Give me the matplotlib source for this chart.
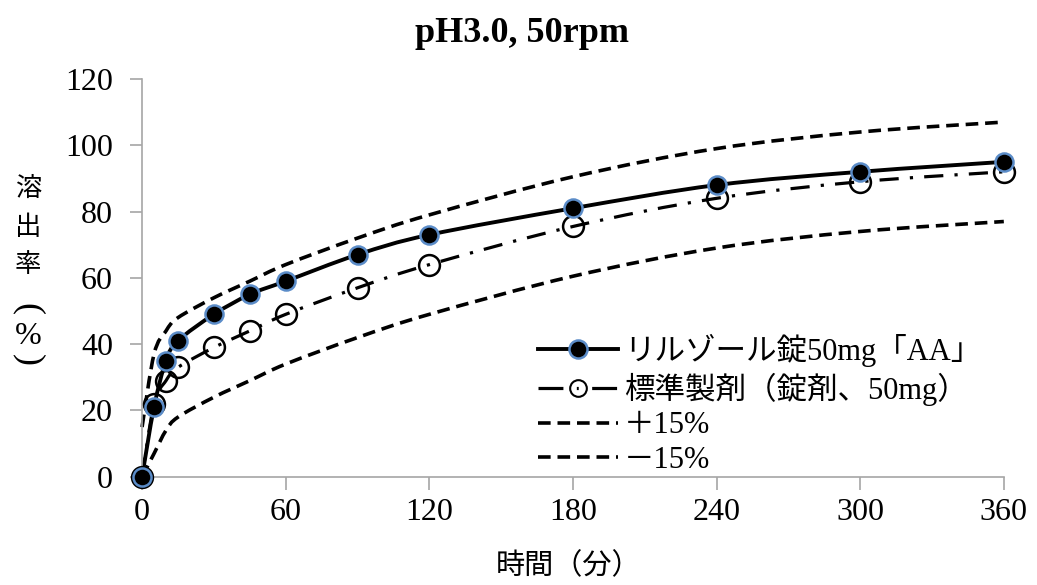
import numpy as np
import matplotlib
matplotlib.use('Agg')
import matplotlib.pyplot as plt
from matplotlib.path import Path
from matplotlib.patches import PathPatch
from matplotlib.lines import Line2D
from matplotlib.font_manager import FontProperties

# dissolution data
times = [0, 5, 10, 15, 30, 45, 60, 90, 120, 180, 240, 300, 360]
test_vals = [0, 21, 35, 41, 49, 55, 59, 67, 73, 81, 88, 92, 95]
ref_vals = [0, 22, 29, 33, 39, 44, 49, 57, 64, 75.5, 84, 89, 92]
upper_vals = [15, 37, 44, 48, 54, 59, 64, 72, 79, 90.5, 99, 104, 107]
lower_vals = [0, 7, 14, 18, 24, 29, 34, 42, 49, 60.5, 69, 74, 77]

x_ticks = [0, 60, 120, 180, 240, 300, 360]
y_ticks = [0, 20, 40, 60, 80, 100, 120]

labels = ['リルゾール錠50mg「AA」', '標準製剤（錠剤、50mg）', '＋15%', '－15%']
ylabel_chars = ['溶', '出', '率', '(', '%', ')']

SERIF = ['Liberation Serif', 'Noto Sans CJK JP']
plt.rcParams['font.family'] = SERIF


def smooth_path(xs, ys):
    # Excel-like smoothed line: Bezier segments through the data points
    pts = np.column_stack([xs, ys]).astype(float)
    verts = [pts[0]]
    codes = [Path.MOVETO]
    n = len(pts)
    for i in range(n - 1):
        p0 = pts[i - 1] if i > 0 else pts[i]
        p1 = pts[i]
        p2 = pts[i + 1]
        p3 = pts[i + 2] if i + 2 < n else pts[i + 1]
        c1 = p1 + (p2 - p0) / 6.0
        c2 = p2 - (p3 - p1) / 6.0
        verts += [c1, c2, p2]
        codes += [Path.CURVE4] * 3
    return Path(verts, codes)


def add_curve(ax, xs, ys, **kw):
    patch = PathPatch(smooth_path(xs, ys), fill=False, capstyle='butt', clip_on=False, **kw)
    ax.add_patch(patch)
    return patch


fig = plt.figure(figsize=(10.37, 5.85), dpi=100)
ax = fig.add_axes([0.137, 0.185, 0.831, 0.68])

lw_band = 2.6
band_ls = (0, (3.5, 1.9))
add_curve(ax, times, upper_vals, color='black', linewidth=lw_band, linestyle=band_ls)
add_curve(ax, times, lower_vals, color='black', linewidth=lw_band, linestyle=band_ls)

ref_ls = (0, (6, 3.5, 1, 3.5))
add_curve(ax, times, ref_vals, color='black', linewidth=2.3, linestyle=ref_ls)
ax.plot(times, ref_vals, linestyle='none', marker='o', markersize=15,
        markerfacecolor='none', markeredgecolor='black', markeredgewidth=1.8,
        zorder=4, clip_on=False)

add_curve(ax, times, test_vals, color='black', linewidth=2.8)
ax.plot(times, test_vals, linestyle='none', marker='o', markersize=13,
        markerfacecolor='black', markeredgecolor='#5B8CC8', markeredgewidth=1.8,
        zorder=5, clip_on=False)

ax.set_xlim(0, 360)
ax.set_ylim(0, 120)
ax.set_xticks(x_ticks)
ax.set_yticks(y_ticks)

for side in ['top', 'right']:
    ax.spines[side].set_visible(False)
for side in ['left', 'bottom']:
    ax.spines[side].set_color('#A6A6A6')
    ax.spines[side].set_linewidth(1.2)
ax.tick_params(axis='both', colors='#A6A6A6', length=9, width=1.2, direction='out',
               labelcolor='black', labelsize=23)
ax.tick_params(axis='y', pad=12)
ax.tick_params(axis='x', pad=6)

fig.text(0.503, 1 - 33 / 585, 'pH3.0, 50rpm', fontsize=26, fontweight='bold',
         ha='center', va='center', family=SERIF)
fig.text(0.548, 1 - 566 / 585, '時間（分）', fontsize=21, ha='center', va='center',
         family=['Noto Sans CJK JP'])

# vertical stacked y label, parentheses turned for vertical writing
ylabel_pos = [188, 228, 265, 309, 336, 360]
for ch, yp in zip(ylabel_chars, ylabel_pos):
    if ch in '()':
        fig.text(28 / 1037, 1 - yp / 585, ch, fontsize=26, ha='center', va='center',
                 rotation=-90, family=['Liberation Serif'])
    elif ch == '%':
        fig.text(28 / 1037, 1 - yp / 585, ch, fontsize=23, ha='center', va='center',
                 family=['Liberation Serif'])
    else:
        fig.text(28 / 1037, 1 - yp / 585, ch, fontsize=19, ha='center', va='center',
                 family=['Noto Sans CJK JP'])

handles = [
    Line2D([], [], color='black', linewidth=2.8, marker='o', markersize=13,
           markerfacecolor='black', markeredgecolor='#5B8CC8', markeredgewidth=1.8),
    Line2D([], [], color='black', linewidth=2.3, linestyle=(0, (7.8, 4.2, 0.6, 4.2)), marker='o',
           markersize=12, markerfacecolor='none', markeredgecolor='black', markeredgewidth=1.5),
    Line2D([], [], color='black', linewidth=lw_band, linestyle=band_ls),
    Line2D([], [], color='black', linewidth=lw_band, linestyle=band_ls),
]
ax.legend(handles, labels, loc='lower left', bbox_to_anchor=(0.46, 0.005), frameon=False,
          prop=FontProperties(family=SERIF, size=22), handlelength=2.6, handletextpad=0.2,
          labelspacing=0.18, borderaxespad=0, borderpad=0)

fig.savefig('out.png', dpi=100)
